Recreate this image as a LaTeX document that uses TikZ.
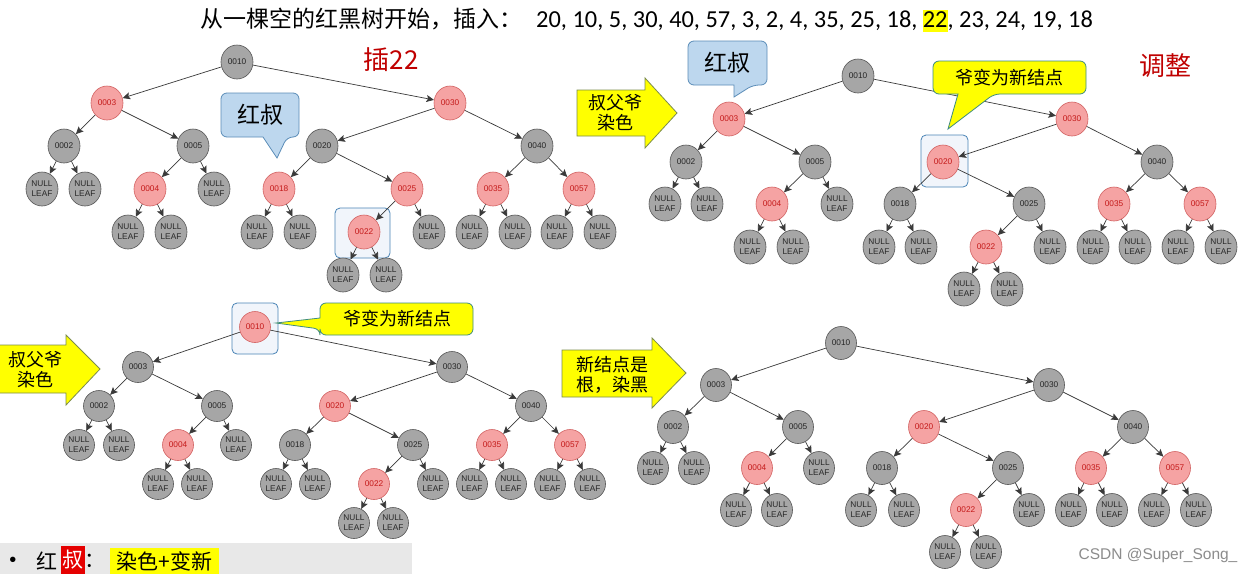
\documentclass[tikz,border=0pt]{standalone}
\usepackage{fontspec}
\usetikzlibrary{shapes.geometric,arrows.meta}
\newfontfamily\cjk{Noto Sans CJK SC}
\newfontfamily\carl{Carlito}
\newfontfamily\lsans{Liberation Sans}
\definecolor{graynode}{HTML}{A6A6A6}
\definecolor{grayborder}{HTML}{555555}
\definecolor{rednode}{HTML}{F5A3A3}
\definecolor{redborder}{HTML}{D26262}
\definecolor{redtext}{HTML}{C41A1A}
\definecolor{edgecol}{HTML}{3A3A3A}
\definecolor{hlborder}{HTML}{4A84B6}
\definecolor{hlfill}{HTML}{F1F5FB}
\definecolor{bluefill}{HTML}{BDD7EE}
\definecolor{blueborder}{HTML}{5B8DB8}
\definecolor{yfill}{HTML}{FFFF00}
\definecolor{yborder}{HTML}{3E8C80}
\definecolor{arrborder}{HTML}{7C8C4C}
\definecolor{darkred}{HTML}{C00000}
\definecolor{bandgray}{HTML}{E8E8E8}
\definecolor{wmgray}{HTML}{8C8C8C}
\newcommand\nullleaf{NULL\\LEAF}
\newcommand\rbedges[1]{%
  \foreach \pa/\ch in {10/3,10/30,3/2,3/5,2/a,2/b,5/4,5/c,4/d,4/e,30/20,30/40,20/18,20/25,18/f,18/g,25/22,25/h,22/m,22/n,40/35,40/57,35/i,35/j,57/k,57/l}
    \draw[edge] (#1\pa) -- (#1\ch);}
\tikzset{
  tn/.style={ellipse, line width=0.6pt, minimum width=32pt, minimum height=34pt, inner sep=0pt,
    font=\lsans\fontsize{8.3}{9.8}\selectfont, align=center},
  gn/.style={tn, fill=graynode, draw=grayborder, text=black!85},
  rn/.style={tn, fill=rednode, draw=redborder, text=redtext},
  nn/.style={gn},
  edge/.style={draw=edgecol, line width=0.7pt, -{Stealth[length=7.5pt,width=7pt,inset=1.5pt]}},
  hlbox/.style={draw=hlborder, fill=hlfill, line width=0.8pt, rounded corners=5pt},
  bcall/.style={draw=blueborder, fill=bluefill, line width=0.8pt},
  ycall/.style={draw=yborder, fill=yfill, line width=0.8pt},
  yarrow/.style={draw=arrborder, fill=yfill, line width=0.8pt},
  cjktext/.style={font=\cjk\fontsize{18}{20}\selectfont, inner sep=0pt, align=center},
  redtitle/.style={font=\cjk\fontsize{26}{28}\selectfont, text=darkred, inner sep=0pt},
}
\begin{document}
\begin{tikzpicture}[x=1pt,y=-1pt]
\useasboundingbox (0,0) rectangle (1255,574);
\fill[white] (0,0) rectangle (1255,574);

% title
\node[anchor=base west, inner sep=0pt] (title) at (200,27)
 {\cjk\fontsize{23}{24}\selectfont 从一棵空的红黑树开始，插入：\hspace{14pt}\carl\fontsize{24.4}{26}\selectfont 20, 10, 5, 30, 40, 57, 3, 2, 4, 35, 25, 18, {\setlength\fboxsep{0pt}\colorbox{yfill}{\rule[-5pt]{0pt}{22pt}22}}, 23, 24, 19, 18};

% highlight boxes
\draw[hlbox] (335,208) rectangle (390,258);
\draw[hlbox] (921,135) rectangle (968,187);
\draw[hlbox] (232,303) rectangle (278,354);

% tree 1
\foreach \nm/\x/\y/\st/\tx in {10/237/62/gn/0010, 3/107/103/rn/0003, 30/450/103/rn/0030,
  2/64/146/gn/0002, 5/193/146/gn/0005, 20/322/146/gn/0020, 40/537/146/gn/0040,
  a/42/189/nn/\nullleaf, b/85/189/nn/\nullleaf, 4/150/189/rn/0004, c/214/189/nn/\nullleaf,
  18/279/189/rn/0018, 25/407/189/rn/0025, 35/493/189/rn/0035, 57/579/189/rn/0057,
  d/128/232/nn/\nullleaf, e/171/232/nn/\nullleaf, f/257/232/nn/\nullleaf, g/300/232/nn/\nullleaf,
  22/364/232/rn/0022, h/429/232/nn/\nullleaf, i/472/232/nn/\nullleaf, j/515/232/nn/\nullleaf,
  k/557/232/nn/\nullleaf, l/600/232/nn/\nullleaf, m/343/275/nn/\nullleaf, n/386/275/nn/\nullleaf}
  {\node[\st] (A\nm) at (\x,\y) {\tx};}
\rbedges{A}

% tree 2
\foreach \nm/\x/\y/\st/\tx in {10/858/76/gn/0010, 3/729/119/rn/0003, 30/1072/119/rn/0030,
  2/686/162/gn/0002, 5/815/162/gn/0005, 20/943/162/rn/0020, 40/1157/162/gn/0040,
  a/665/204/nn/\nullleaf, b/707/204/nn/\nullleaf, 4/772/204/rn/0004, c/837/204/nn/\nullleaf,
  18/900/204/gn/0018, 25/1029/204/gn/0025, 35/1114/204/rn/0035, 57/1200/204/rn/0057,
  d/750/247/nn/\nullleaf, e/793/247/nn/\nullleaf, f/879/247/nn/\nullleaf, g/921/247/nn/\nullleaf,
  22/986/247/rn/0022, h/1050/247/nn/\nullleaf, i/1093/247/nn/\nullleaf, j/1135/247/nn/\nullleaf,
  k/1178/247/nn/\nullleaf, l/1221/247/nn/\nullleaf, m/964/289/nn/\nullleaf, n/1007/289/nn/\nullleaf}
  {\node[\st] (B\nm) at (\x,\y) {\tx};}
\rbedges{B}

% tree 3
\begin{scope}[tn/.append style={minimum width=31pt, minimum height=31pt}]
\foreach \nm/\x/\y/\st/\tx in {10/255/327/rn/0010, 3/138/367/gn/0003, 30/452/367/gn/0030,
  2/99/406/gn/0002, 5/217/406/gn/0005, 20/335/406/rn/0020, 40/531/406/gn/0040,
  a/79/445/nn/\nullleaf, b/119/445/nn/\nullleaf, 4/178/445/rn/0004, c/236/445/nn/\nullleaf,
  18/295/445/gn/0018, 25/413/445/gn/0025, 35/492/445/rn/0035, 57/570/445/rn/0057,
  d/158/484/nn/\nullleaf, e/197/484/nn/\nullleaf, f/276/484/nn/\nullleaf, g/315/484/nn/\nullleaf,
  22/374/484/rn/0022, h/433/484/nn/\nullleaf, i/472/484/nn/\nullleaf, j/511/484/nn/\nullleaf,
  k/550/484/nn/\nullleaf, l/590/484/nn/\nullleaf, m/354/523/nn/\nullleaf, n/393/523/nn/\nullleaf}
  {\node[\st] (C\nm) at (\x,\y) {\tx};}
\rbedges{C}
\end{scope}

% tree 4
\begin{scope}[tn/.append style={minimum width=31pt, minimum height=33pt}]
\foreach \nm/\x/\y/\st/\tx in {10/841/343/gn/0010, 3/716/385/gn/0003, 30/1049/385/gn/0030,
  2/673/427/gn/0002, 5/798/427/gn/0005, 20/924/427/rn/0020, 40/1133/427/gn/0040,
  a/653/468/nn/\nullleaf, b/694/468/nn/\nullleaf, 4/757/468/rn/0004, c/819/468/nn/\nullleaf,
  18/882/468/gn/0018, 25/1008/468/gn/0025, 35/1091/468/rn/0035, 57/1175/468/rn/0057,
  d/736/510/nn/\nullleaf, e/777/510/nn/\nullleaf, f/861/510/nn/\nullleaf, g/904/510/nn/\nullleaf,
  22/966/510/rn/0022, h/1029/510/nn/\nullleaf, i/1071/510/nn/\nullleaf, j/1112/510/nn/\nullleaf,
  k/1154/510/nn/\nullleaf, l/1196/510/nn/\nullleaf, m/945/552/nn/\nullleaf, n/986/552/nn/\nullleaf}
  {\node[\st] (D\nm) at (\x,\y) {\tx};}
\rbedges{D}
\end{scope}

% red headings
\node[redtitle] (ins22) at (391,60) {插22};
\node[redtitle] (adjust) at (1165,66) {调整};

% blue callouts
\draw[bcall] (250,93) [rounded corners=6pt] -- (299,93) -- (299,137) -- (287,137) [sharp corners] -- (277,158) -- (263,137) [rounded corners=6pt] -- (221,137) -- (221,93) -- cycle;
\node[font=\cjk\fontsize{23}{25}\selectfont, inner sep=0pt] (red1) at (260,115) {红叔};
\draw[bcall] (727,41) [rounded corners=6pt] -- (767,41) -- (767,85) -- (753,85) [sharp corners] -- (734,97) -- (734,85) [rounded corners=6pt] -- (688,85) -- (688,41) -- cycle;
\node[font=\cjk\fontsize{23}{25}\selectfont, inner sep=0pt] (red2) at (727,63) {红叔};

% yellow callouts
\draw[ycall] (1000,61) [rounded corners=6pt] -- (1086,61) -- (1086,94) -- (994,94) [sharp corners] -- (948,129) -- (958,94) [rounded corners=6pt] -- (933,94) -- (933,61) -- cycle;
\node[cjktext] (gp2) at (1009,78) {爷变为新结点};
\draw[ycall] (400,303) [rounded corners=6pt] -- (473,303) -- (473,335) -- (320,335) -- (320,329) [sharp corners] -- (276,323) -- (320,318) [rounded corners=6pt] -- (320,303) -- cycle;
\node[cjktext] (gp3) at (397,319) {爷变为新结点};

% yellow arrows
\draw[yarrow] (577,90) -- (645,90) -- (645,78) -- (677,113) -- (645,148) -- (645,136) -- (577,136) -- cycle;
\node[cjktext] (ar1) at (615,113) {叔父爷\\染色};
\draw[yarrow] (-2,345) -- (66,345) -- (66,335) -- (100,369) -- (66,405) -- (66,393) -- (-2,393) -- cycle;
\node[cjktext] (ar2) at (36,370) {叔父爷\\染色};
\draw[yarrow] (562,350) -- (652,350) -- (652,338) -- (686,373) -- (652,408) -- (652,397) -- (562,397) -- cycle;
\node[cjktext] (ar3) at (612,375) {新结点是\\根，染黑};

% bottom summary band
\fill[bandgray] (0,543) rectangle (412,574);
\node[font=\lsans\fontsize{20}{22}\selectfont, inner sep=0pt] (bul) at (13,562) {•};
\node[font=\cjk\fontsize{21}{23}\selectfont, inner sep=0pt] (s1) at (47,561) {红};
\node[font=\cjk\fontsize{21}{23}\selectfont, inner sep=0pt, fill=red!90!black, text=white, minimum width=24pt, minimum height=28pt] (s2) at (73,560) {叔};
\node[font=\cjk\fontsize{21}{23}\selectfont, inner sep=0pt] (s3) at (95,561) {：};
\node[font=\cjk\fontsize{21}{23}\selectfont, inner sep=0pt, fill=yfill, minimum width=109pt, minimum height=26pt] (s4) at (164.5,561) {染色+变新};

% watermark
\node[font=\lsans\fontsize{15.5}{17}\selectfont, text=wmgray, inner sep=0pt] (wm) at (1158,555) {CSDN @Super\_Song\_};
\end{tikzpicture}
\end{document}
